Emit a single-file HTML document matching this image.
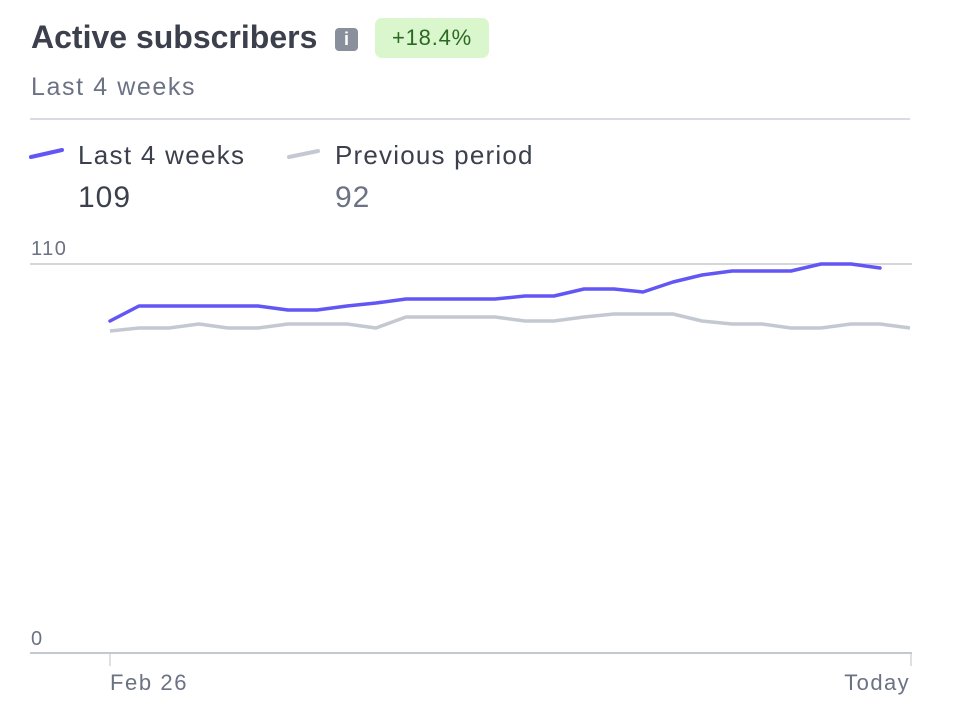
<!DOCTYPE html>
<html><head><meta charset="utf-8"><style>
body{margin:0;background:#fff;width:958px;height:726px;overflow:hidden;font-family:"Liberation Sans",sans-serif;}
.t{position:absolute;white-space:nowrap}
</style></head><body>
<div class="t" style="left:31px;top:19px;font-size:32px;font-weight:bold;color:#3c3f4c;letter-spacing:0px">Active subscribers</div>
<div style="position:absolute;left:335px;top:28px;width:23px;height:23px;background:#8a8f9c;border-radius:4px;color:#fff;font-weight:bold;font-size:18px;text-align:center;line-height:23px">i</div>
<div style="position:absolute;left:375px;top:18px;width:114px;height:40px;background:#d9f6cd;border-radius:7px;color:#2b6a22;font-size:22px;text-align:center;line-height:40px;letter-spacing:0.8px">+18.4%</div>
<div class="t" style="left:31px;top:73px;font-size:25px;color:#6b7284;letter-spacing:1.6px">Last 4 weeks</div>
<div style="position:absolute;left:30px;top:118px;width:880px;height:2px;background:#d8dce2"></div>
<svg style="position:absolute;left:0;top:0" width="958" height="726">
<line x1="31" y1="157" x2="62" y2="150" stroke="#6257f5" stroke-width="4" stroke-linecap="round"/>
<line x1="289" y1="157" x2="318" y2="151" stroke="#c4c9d1" stroke-width="4" stroke-linecap="round"/>
<line x1="30" y1="264" x2="912" y2="264" stroke="#d4d6da" stroke-width="2"/>
<line x1="30" y1="653" x2="912" y2="653" stroke="#c4c8d0" stroke-width="2"/>
<line x1="110" y1="654" x2="110" y2="666" stroke="#d4d6da" stroke-width="1.5"/>
<line x1="911" y1="654" x2="911" y2="666" stroke="#d4d6da" stroke-width="1.5"/>
<polyline fill="none" stroke="#c4c9d1" stroke-width="3.5" stroke-linejoin="round" points="110,331 139,328 169,328 199,324 228,328 258,328 288,324 317,324 347,324 376,328 406,317 436,317 465,317 495,317 525,321 554,321 584,317 614,314 643,314 673,314 702,321 732,324 762,324 791,328 821,328 851,324 880,324 910,328"/>
<polyline fill="none" stroke="#6257f5" stroke-width="3.5" stroke-linejoin="round" stroke-linecap="round" points="110,321 139,306 169,306 199,306 228,306 258,306 288,310 317,310 347,306 376,303 406,299 436,299 465,299 495,299 525,296 554,296 584,289 614,289 643,292 673,282 702,275 732,271 762,271 791,271 821,264 851,264 880,268"/>
</svg>
<div class="t" style="left:78px;top:140px;font-size:26px;color:#3c3f4c;letter-spacing:1.3px">Last 4 weeks</div>
<div class="t" style="left:78px;top:181px;font-size:30px;color:#3c3f4c;letter-spacing:1px">109</div>
<div class="t" style="left:335px;top:140px;font-size:26px;color:#3c3f4c;letter-spacing:1.2px">Previous period</div>
<div class="t" style="left:335px;top:181px;font-size:30px;color:#6b7284;letter-spacing:1px">92</div>
<div class="t" style="left:31px;top:238px;font-size:20px;color:#6b7284;letter-spacing:1.5px">110</div>
<div class="t" style="left:31px;top:628px;font-size:20px;color:#6b7284">0</div>
<div class="t" style="left:110px;top:670px;font-size:22px;color:#6b7284;letter-spacing:1.6px">Feb 26</div>
<div class="t" style="right:48px;top:670px;font-size:22px;color:#6b7284;letter-spacing:1.4px">Today</div>
</body></html>
